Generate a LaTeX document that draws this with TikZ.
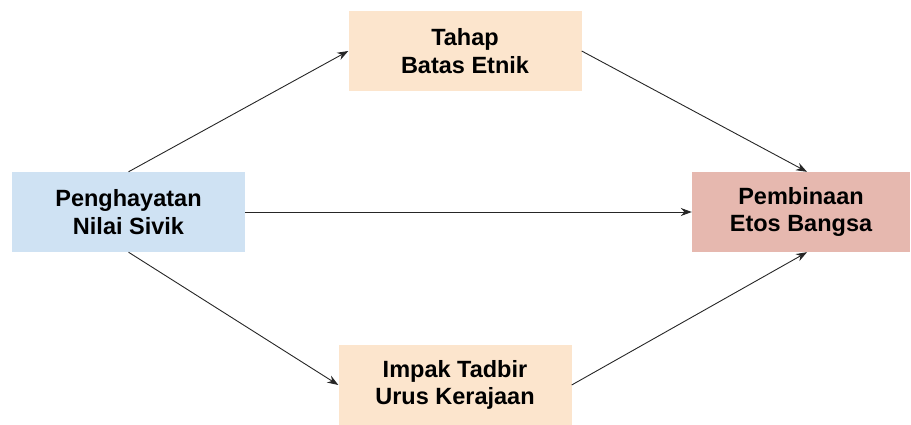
\documentclass[tikz,border=0pt]{standalone}
\usepackage{fontspec}
\setmainfont{Liberation Sans}
\usetikzlibrary{arrows.meta}
\definecolor{sivikblue}{HTML}{CFE2F3}
\definecolor{peach}{HTML}{FCE5CD}
\definecolor{etosred}{HTML}{E6B8AF}
\begin{document}
\begin{tikzpicture}[x=1pt,y=-1pt,
  box/.style={minimum width=233pt,minimum height=80pt,align=center,inner sep=0pt,
    font=\fontsize{23.5}{27.5}\selectfont\bfseries},
  link/.style={-{Stealth[length=11pt,width=8pt]},line width=0.9pt,black!85}]
\useasboundingbox (0,0) rectangle (911,425);

% Boxes
\node[box,fill=sivikblue] (sivik) at (128.5,212) {Penghayatan\\Nilai Sivik};
\node[box,fill=peach] (etnik) at (465,51) {Tahap\\Batas Etnik};
\node[box,fill=peach] (tadbir) at (455,385) {Impak Tadbir\\Urus Kerajaan};
\node[box,fill=etosred,minimum width=218pt] (etos) at (801,212) {Pembinaan\\Etos Bangsa};

% Paths
\draw[link] (sivik.north) -- (etnik.west);
\draw[link] (etnik.east) -- ([xshift=6pt]etos.north);
\draw[link] (sivik.east) -- (etos.west);
\draw[link] (sivik.south) -- (tadbir.west);
\draw[link] (tadbir.east) -- ([xshift=6pt]etos.south);
\end{tikzpicture}
\end{document}
